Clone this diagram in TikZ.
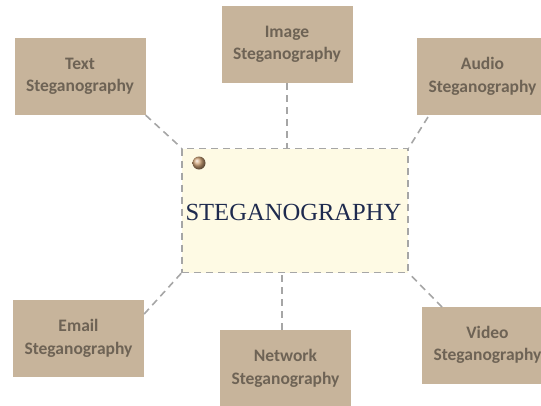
\documentclass[tikz,border=0pt]{standalone}
\usepackage{fontspec}
\setmainfont{Carlito}
\newfontfamily\centerfont{Liberation Serif}
\begin{document}
\begin{tikzpicture}[x=1pt,y=-1pt]
\definecolor{tan}{HTML}{C7B49B}
\definecolor{tantext}{HTML}{6E6355}
\definecolor{paper}{HTML}{FEFAE4}
\definecolor{dashgray}{HTML}{A6A6A6}
\definecolor{navy}{HTML}{1E2A4E}
\tikzset{
  leaf/.style={fill=tan, draw=none, minimum width=131pt, minimum height=77pt, inner sep=0pt,
    align=center, text=tantext, font=\fontsize{17.5}{22.5}\selectfont\bfseries},
  conn/.style={draw=dashgray, line width=1.6pt, dash pattern=on 7pt off 5pt}
}
\useasboundingbox (0,0) rectangle (541,405);
\begin{scope}
\clip (0,0) rectangle (541,405);
\node[fill=paper, draw=dashgray, line width=1.6pt, dash pattern=on 7pt off 5pt,
  minimum width=226pt, minimum height=124pt, inner sep=0pt] (c) at (295,210.5) {};
\node[text=navy, font=\centerfont\fontsize{24.6}{28}\selectfont] (ct) at (293.5,212) {STEGANOGRAPHY};
\shade[ball color={brown!70!white}] (199,163) circle (6.5pt);
\node[leaf] (text) at (80,76.5) {Text\\Steganography};
\node[leaf] (image) at (287,44.5) {Image\\Steganography};
\node[leaf] (audio) at (482.5,76.5) {Audio\\Steganography};
\node[leaf] (email) at (78.5,338.5) {Email\\Steganography};
\node[leaf] (network) at (285.5,368.5) {Network\\Steganography};
\node[leaf] (video) at (487.5,345) {Video\\Steganography};
\coordinate (audioend) at (428,117);
\coordinate (videoend) at (442,307);
\draw[conn] (text.south east) -- (c.north west);
\draw[conn] (image.south) -- (c.north -| image.south);
\draw[conn] (audioend) -- (c.north east);
\draw[conn] (email.east |- 0,314) -- (c.south west);
\draw[conn] (network.north -| 282,0) -- (c.south -| 282,0);
\draw[conn] (videoend) -- (c.south east);
\end{scope}
\end{tikzpicture}
\end{document}
